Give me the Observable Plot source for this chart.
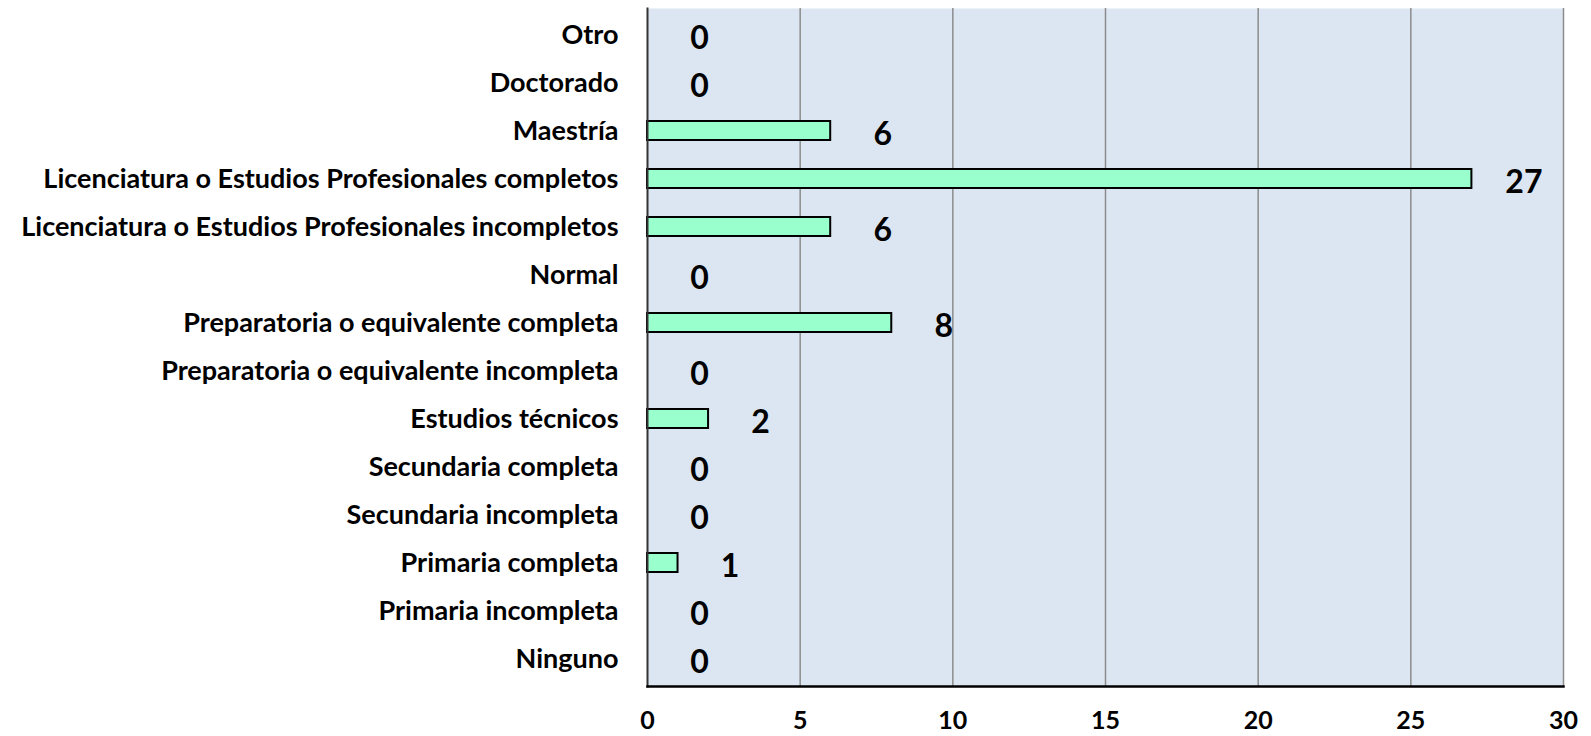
<!DOCTYPE html>
<html>
<head>
<meta charset="utf-8">
<script src="https://cdn.jsdelivr.net/npm/d3@7"></script>
<script src="https://cdn.jsdelivr.net/npm/@observablehq/plot@0.6"></script>
<style>
  html, body { margin: 0; padding: 0; background: #ffffff; }
  #chart svg { display: block; }
</style>
</head>
<body>
<div id="chart"></div>
<script>
// Nivel de estudios: categories listed from top to bottom
const categories = [
  "Otro",
  "Doctorado",
  "Maestría",
  "Licenciatura o Estudios Profesionales completos",
  "Licenciatura o Estudios Profesionales incompletos",
  "Normal",
  "Preparatoria o equivalente completa",
  "Preparatoria o equivalente incompleta",
  "Estudios técnicos",
  "Secundaria completa",
  "Secundaria incompleta",
  "Primaria completa",
  "Primaria incompleta",
  "Ninguno"
];
const counts = [0, 0, 6, 27, 6, 0, 8, 0, 2, 0, 0, 1, 0, 0];
const xTicks = [0, 5, 10, 15, 20, 25, 30];

const rows = categories.map((c, i) => ({category: c, value: counts[i]}));

const chart = Plot.plot({
  width: 1591,
  height: 736,
  marginLeft: 647,
  marginRight: 28,
  marginTop: 8,
  marginBottom: 50,
  style: {fontFamily: "Lato, 'Open Sans', sans-serif", fontWeight: "bold", color: "#000", background: "#fff"},
  x: {domain: [0, 30], ticks: xTicks},
  y: {domain: categories, paddingInner: 0.6, paddingOuter: 0.3},
  marks: [
    Plot.frame({fill: "#dce6f2", stroke: null}),
    Plot.gridX(xTicks.slice(1), {stroke: "#8c8c8c", strokeOpacity: 1, strokeWidth: 1.5}),
    // zero counts draw no bar, only their label
    Plot.barX(rows.filter(d => d.value > 0), {
      x: "value", y: "category",
      fill: "#99ffcc", stroke: "#000", strokeWidth: 2
    }),
    Plot.frame({anchor: "left", stroke: "#333", strokeWidth: 2}),
    Plot.frame({anchor: "bottom", stroke: "#000", strokeWidth: 2.5}),
    Plot.text(rows, {
      x: "value", y: "category", text: d => String(d.value),
      dx: 52, dy: 4, fontSize: 32, fontWeight: "bold", fill: "#000", textAnchor: "middle"
    }),
    Plot.axisY({tickSize: 0, tickPadding: 29, fontSize: 27, fontWeight: "bold", label: null}),
    Plot.axisX(xTicks, {tickSize: 0, tickPadding: 25, fontSize: 25, fontWeight: "bold", label: null})
  ]
});
document.getElementById("chart").appendChild(chart);
</script>
</body>
</html>
